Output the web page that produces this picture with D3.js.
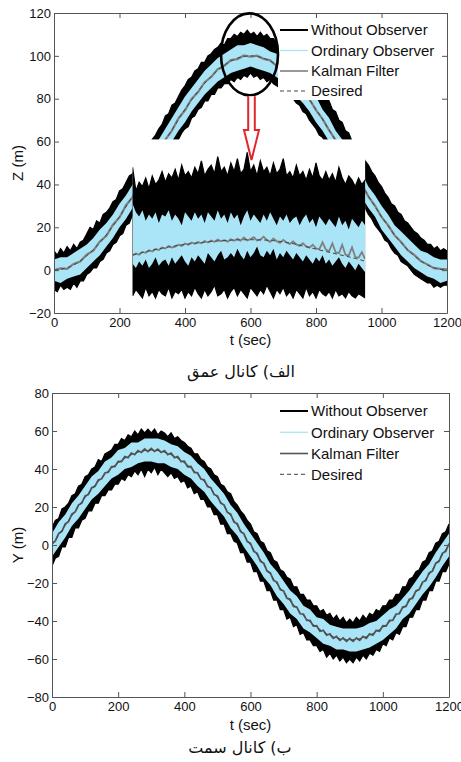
<!DOCTYPE html>
<html>
<head>
<meta charset="utf-8">
<script src="https://cdn.jsdelivr.net/npm/d3@7"></script>
<style>
body { margin: 0; background: #fff; }
svg text { font-family: "Liberation Sans", Arial, sans-serif; fill: #111; }
</style>
</head>
<body>
<script>
// Width and height
var w = 461;
var h = 762;

// Sample grids (seconds)
var t10 = d3.range(0, 1201, 10);
var t20 = d3.range(0, 1201, 20);
var t50 = d3.range(0, 1201, 50);
var tInset = d3.range(240, 951, 10);

var legendNames = ["Without Observer", "Ordinary Observer", "Kalman Filter", "Desired"];
var xTicks = [0, 200, 400, 600, 800, 1000, 1200];
var zTicks = [-20, 0, 20, 40, 60, 80, 100, 120];
var yTicks = [-80, -60, -40, -20, 0, 20, 40, 60, 80];

// ---- Depth channel (Z), full run ----
var zWithoutHi = [9, 7, 10, 8, 11, 9, 12, 10, 13, 14,
  17, 20, 19, 23, 22, 26, 27, 29, 32, 33,
  37, 38, 41, 44, 45, 48, 51, 52, 56, 58,
  61, 63, 66, 68, 72, 73, 77, 78, 81, 84,
  86, 89, 90, 93, 94, 97, 97, 100, 101, 103,
  104, 106, 105, 108, 108, 110, 109, 111, 110, 112,
  110, 111, 109, 111, 109, 110, 108, 108, 106, 106,
  105, 103, 103, 100, 100, 97, 96, 93, 92, 89,
  88, 85, 84, 80, 79, 75, 74, 70, 69, 65,
  64, 60, 59, 55, 54, 51, 49, 46, 44, 41,
  39, 36, 34, 31, 30, 27, 26, 23, 22, 20,
  18, 17, 15, 14, 12, 12, 10, 11, 9, 10,
  9];
var zWithoutLo = [-9, -10, -7, -9, -8, -9, -6, -8, -5, -5,
  -2, -1, 1, 1, 4, 5, 8, 9, 12, 13,
  16, 17, 21, 22, 26, 27, 30, 33, 35, 38,
  41, 43, 46, 48, 52, 53, 56, 59, 61, 64,
  66, 67, 71, 72, 75, 76, 79, 79, 82, 82,
  85, 85, 87, 87, 89, 88, 90, 89, 91, 90,
  92, 90, 91, 89, 90, 88, 89, 87, 86, 85,
  84, 83, 81, 80, 78, 77, 74, 73, 70, 68,
  66, 63, 62, 59, 57, 54, 52, 49, 47, 44,
  41, 39, 36, 34, 31, 29, 26, 24, 21, 19,
  17, 14, 13, 10, 8, 7, 4, 3, 2, 0,
  -2, -3, -4, -5, -6, -6, -8, -7, -8, -7,
  -7];
var zOrdinaryHi = [5, 6, 6, 8, 10, 12, 15, 19, 22, 26,
  31, 35, 40, 45, 51, 55, 61, 66, 71, 76,
  81, 85, 89, 93, 96, 99, 101, 103, 105, 105,
  106, 105, 104, 102, 101, 98, 96, 92, 89, 84,
  81, 75, 71, 65, 61, 55, 50, 45, 39, 35,
  30, 26, 21, 18, 15, 12, 9, 8, 6, 5,
  5];
var zOrdinaryLo = [-5, -6, -4, -3, -2, 1, 4, 7, 11, 15,
  20, 24, 29, 34, 39, 45, 49, 55, 60, 65,
  69, 74, 78, 82, 85, 88, 90, 92, 93, 94,
  95, 94, 93, 92, 90, 88, 85, 81, 78, 74,
  69, 65, 60, 54, 50, 44, 39, 34, 29, 25,
  19, 15, 11, 7, 4, 1, -1, -3, -4, -6,
  -5];
var zKalman = [0, 0.8, 0.6, 2.9, 4.0, 7.3, 9.1, 13.4, 16.0, 21.2,
  24.6, 30.3, 34.1, 40.2, 44.5, 50.6, 54.8, 60.9, 65.1, 70.8,
  74.6, 79.9, 83.1, 87.7, 90.1, 93.8, 95.3, 98.0, 98.5, 100.2,
  99.6, 100.1, 98.6, 97.9, 95.2, 93.9, 90.0, 87.6, 83.2, 79.8,
  74.7, 70.6, 65.3, 60.7, 55.0, 50.4, 44.6, 40.0, 34.3, 30.1,
  24.8, 21.0, 16.2, 13.1, 9.3, 7.1, 4.2, 2.7, 0.9, 0.6,
  0.4];
var zDesired = [0, 1.7, 6.7, 14.6, 25, 37.1, 50, 62.9, 75, 85.4, 93.3, 98.3, 100,
  98.3, 93.3, 85.4, 75, 62.9, 50, 37.1, 25, 14.6, 6.7, 1.7, 0];

// ---- Depth channel, magnified window drawn over t = 240..950 ----
var insetWithoutHi = [48, 37, 41, 39, 43, 38, 44, 40, 42, 46,
  41, 45, 43, 47, 42, 49, 44, 46, 43, 48,
  45, 51, 44, 47, 49, 45, 53, 46, 48, 44,
  50, 46, 52, 45, 47, 55, 46, 49, 44, 51,
  46, 48, 44, 50, 45, 47, 52, 44, 46, 43,
  49, 44, 46, 42, 47, 43, 50, 44, 42, 46,
  42, 45, 41, 48, 43, 40, 44, 42, 39, 43,
  40, 42];
var insetWithoutLo = [-12, -9, -11, -13, -8, -12, -10, -13, -9, -11,
  -12, -8, -13, -10, -11, -9, -13, -10, -12, -8,
  -11, -13, -9, -12, -10, -7, -12, -11, -9, -13,
  -10, -8, -12, -9, -11, -13, -8, -10, -12, -9,
  -11, -7, -10, -13, -9, -11, -8, -12, -10, -13,
  -9, -11, -13, -8, -12, -10, -13, -9, -11, -12,
  -10, -13, -9, -12, -11, -13, -10, -12, -13, -11,
  -12, -13];
var insetOrdinaryHi = [31, 27, 25, 28, 23, 26, 24, 27, 22, 26,
  25, 28, 23, 26, 24, 21, 27, 25, 23, 27,
  24, 26, 22, 27, 25, 23, 28, 24, 26, 22,
  27, 24, 26, 21, 25, 28, 23, 26, 24, 22,
  26, 23, 27, 24, 21, 25, 23, 26, 22, 24,
  25, 21, 24, 26, 22, 24, 20, 25, 23, 21,
  24, 22, 20, 25, 21, 23, 19, 24, 22, 20,
  23, 21];
var insetOrdinaryLo = [3, 1, 4, 2, 5, 1, 3, 6, 2, 4,
  5, 2, 6, 3, 5, 7, 4, 2, 6, 4,
  7, 5, 3, 8, 6, 4, 7, 9, 5, 6,
  8, 6, 10, 7, 5, 9, 6, 8, 11, 7,
  6, 9, 7, 10, 5, 8, 6, 9, 7, 5,
  8, 6, 4, 7, 5, 3, 6, 4, 7, 3,
  5, 2, 4, 6, 3, 1, 4, 2, 0, 3,
  1, -1];
var insetKalman = [7, 7.8, 7.2, 8.5, 8.1, 9.3, 8.7, 9.9, 9.4, 10.6,
  10.1, 11.2, 10.5, 11.0, 11.9, 11.3, 12.4, 11.8, 12.9, 12.3,
  13.1, 12.5, 13.6, 12.9, 13.8, 13.2, 14.3, 13.5, 14.0, 13.3,
  14.4, 13.7, 14.6, 13.8, 15.2, 13.9, 14.5, 15.4, 13.8, 14.2,
  15.6, 14.0, 13.2, 14.8, 13.5, 12.7, 14.1, 12.9, 12.2, 13.4,
  12.0, 11.3, 12.6, 11.1, 10.5, 11.8, 10.2, 9.8, 13.0, 9.6,
  8.9, 12.5, 8.3, 7.9, 11.8, 7.2, 6.8, 10.6, 6.1, 5.8,
  8.4, 5.2];
var insetDesiredT = [240, 300, 350, 400, 500, 600, 700, 800, 900, 950];
var insetDesired = [7, 9.3, 10.8, 12, 13.6, 14.2, 13.2, 9.8, 6.2, 4.2];

// ---- Heading channel (Y) ----
var yWithoutHi = [9, 13, 14, 19, 20, 22, 26, 27, 31, 32,
  36, 37, 40, 41, 45, 44, 48, 49, 50, 53,
  53, 56, 55, 58, 57, 60, 58, 61, 59, 61,
  59, 61, 58, 60, 59, 57, 59, 56, 57, 55,
  54, 52, 51, 48, 48, 45, 44, 41, 40, 37,
  36, 32, 31, 28, 27, 23, 21, 18, 16, 13,
  11, 7, 6, 2, 1, -3, -4, -8, -9, -13,
  -14, -17, -18, -22, -22, -26, -26, -29, -29, -32,
  -32, -35, -34, -37, -36, -39, -37, -40, -38, -41,
  -39, -41, -38, -40, -37, -39, -36, -37, -34, -35,
  -32, -32, -29, -29, -26, -26, -22, -22, -18, -17,
  -14, -13, -9, -8, -4, -3, 1, 2, 6, 7,
  11];
var yWithoutLo = [-11, -7, -6, -1, -1, 4, 4, 9, 9, 13,
  14, 18, 18, 22, 22, 26, 26, 29, 29, 32,
  32, 35, 34, 37, 36, 39, 37, 40, 36, 40,
  38, 41, 37, 40, 38, 36, 38, 35, 36, 33,
  34, 30, 31, 27, 28, 24, 24, 20, 20, 16,
  16, 11, 11, 6, 6, 2, 1, -4, -4, -9,
  -9, -14, -14, -19, -19, -24, -24, -29, -29, -34,
  -34, -39, -38, -43, -42, -47, -46, -50, -50, -53,
  -53, -56, -55, -59, -57, -60, -58, -61, -59, -62,
  -60, -62, -59, -61, -58, -60, -57, -58, -55, -56,
  -52, -53, -49, -50, -46, -47, -43, -43, -38, -38,
  -34, -34, -29, -29, -24, -24, -19, -19, -14, -14,
  -10];
var yOrdinaryHi = [6, 12, 16, 22, 26, 31, 36, 39, 44, 46,
  50, 51, 54, 54, 56, 56, 56, 55, 53, 52,
  49, 47, 43, 40, 35, 31, 27, 21, 17, 11,
  6, 1, -4, -10, -14, -19, -24, -27, -32, -34,
  -38, -39, -42, -43, -44, -44, -44, -43, -41, -40,
  -37, -34, -32, -28, -24, -19, -14, -10, -4, 1,
  6];
var yOrdinaryLo = [-6, -1, 4, 10, 14, 19, 24, 27, 31, 35,
  37, 40, 41, 43, 44, 44, 43, 43, 41, 40,
  37, 35, 31, 28, 23, 19, 15, 9, 5, -1,
  -6, -11, -17, -21, -27, -31, -36, -39, -44, -46,
  -49, -52, -53, -55, -55, -56, -56, -55, -54, -52,
  -50, -47, -44, -39, -36, -31, -26, -22, -17, -11,
  -6];
var yKalman = [0.8, 2.1, 6.0, 7.2, 11.1, 12.3, 16.2, 17.4, 21.0, 22.1,
  25.8, 26.6, 30.1, 30.9, 34.2, 34.8, 37.9, 38.3, 41.2, 41.3,
  44.0, 43.9, 46.5, 46.0, 48.4, 47.6, 49.7, 48.7, 50.5, 49.2,
  50.8, 49.3, 50.4, 48.7, 49.7, 47.6, 48.4, 46.0, 46.5, 43.9,
  44.1, 41.2, 41.3, 38.2, 38.0, 34.7, 34.3, 30.8, 30.2, 26.5,
  25.8, 22.0, 21.1, 17.2, 16.3, 12.1, 11.2, 7.0, 6.0, 1.9,
  0.8, -3.3, -4.4, -8.6, -9.6, -13.7, -14.7, -18.7, -19.5, -23.5,
  -24.2, -28.0, -28.6, -32.3, -32.7, -36.2, -36.4, -39.7, -39.7, -42.7,
  -42.5, -45.4, -44.9, -47.5, -46.8, -49.1, -48.1, -50.2, -48.9, -50.7,
  -49.2, -50.7, -48.9, -50.2, -48.1, -49.1, -46.8, -47.5, -44.9, -45.4,
  -42.5, -42.7, -39.7, -39.7, -36.4, -36.2, -32.7, -32.3, -28.6, -28.0,
  -24.2, -23.5, -19.5, -18.7, -14.7, -13.7, -9.6, -8.6, -4.4, -3.3,
  0.8];
var yDesired = [0, 12.9, 25, 35.4, 43.3, 48.3, 50, 48.3, 43.3, 35.4, 25, 12.9, 0,
  -12.9, -25, -35.4, -43.3, -48.3, -50, -48.3, -43.3, -35.4, -25, -12.9, 0];

// Colours
var cWithout = "#000";
var cOrdinary = "#a9e5f7";
var cDesired = "#444";
var red = "#e3262b";

function band(ts, lo, hi) {
  return ts.map(function(t, i) { return { t: t, lo: lo[i], hi: hi[i] }; });
}
function pts(ts, vs) {
  return ts.map(function(t, i) { return { t: t, v: vs[i] }; });
}

// Create SVG element
var svg = d3.select("body")
  .append("svg")
  .attr("width", w)
  .attr("height", h);

var defs = svg.append("defs");

// draws the four series of one channel
function drawSeries(g, x, y, s) {
  var area = d3.area()
    .x(function(d) { return x(d.t); })
    .y0(function(d) { return y(d.lo); })
    .y1(function(d) { return y(d.hi); });
  var line = d3.line()
    .x(function(d) { return x(d.t); })
    .y(function(d) { return y(d.v); });

  g.append("path")
    .attr("d", area(band(s.tW, s.wLo, s.wHi)))
    .attr("fill", cWithout)
    .attr("stroke", cWithout)
    .attr("stroke-width", 1.2);
  g.append("path")
    .attr("d", area(band(s.tO, s.oLo, s.oHi)))
    .attr("fill", cOrdinary);
  g.append("path")
    .attr("d", line(pts(s.tK, s.k)))
    .attr("fill", "none")
    .attr("stroke", s.kColor)
    .attr("stroke-width", s.kWidth);
  g.append("path")
    .attr("d", line.curve(d3.curveNatural)(pts(s.tD, s.d)))
    .attr("fill", "none")
    .attr("stroke", cDesired)
    .attr("stroke-width", 1)
    .attr("stroke-dasharray", "4,3");
}

function drawAxes(g, x, y, yt, padX, padY) {
  var axisColor = "#555";
  var gx = g.append("g")
    .attr("transform", "translate(0," + y.range()[0] + ")")
    .call(d3.axisBottom(x).tickValues(xTicks).tickFormat(d3.format("d"))
      .tickSizeInner(-5).tickSizeOuter(0).tickPadding(padX));
  var gxt = g.append("g")
    .attr("transform", "translate(0," + y.range()[1] + ")")
    .call(d3.axisTop(x).tickValues(xTicks).tickSizeInner(-5).tickSizeOuter(0).tickFormat(""));
  var gy = g.append("g")
    .attr("transform", "translate(" + x.range()[0] + ",0)")
    .call(d3.axisLeft(y).tickValues(yt).tickFormat(d3.format("d"))
      .tickSizeInner(-5).tickSizeOuter(0).tickPadding(padY));
  var gyr = g.append("g")
    .attr("transform", "translate(" + x.range()[1] + ",0)")
    .call(d3.axisRight(y).tickValues(yt).tickSizeInner(-5).tickSizeOuter(0).tickFormat(""));
  [gx, gxt, gy, gyr].forEach(function(a) {
    a.selectAll("path, line").attr("stroke", axisColor);
    a.selectAll("text").attr("font-size", "13px").attr("fill", "#111")
      .attr("font-family", "Liberation Sans, Arial, sans-serif");
  });
}

function drawLegend(g, x0, rows, kColor) {
  var styles = [
    { c: cWithout, wd: 2, dash: null },
    { c: cOrdinary, wd: 1.3, dash: null },
    { c: kColor, wd: 1.6, dash: null },
    { c: cDesired, wd: 1, dash: "4,3" }
  ];
  legendNames.forEach(function(n, i) {
    g.append("line")
      .attr("x1", x0).attr("x2", x0 + 28)
      .attr("y1", rows[i]).attr("y2", rows[i])
      .attr("stroke", styles[i].c)
      .attr("stroke-width", styles[i].wd)
      .attr("stroke-dasharray", styles[i].dash);
    g.append("text")
      .attr("x", x0 + 31)
      .attr("y", rows[i])
      .attr("dy", "0.36em")
      .attr("font-size", "15px")
      .text(n);
  });
}

// ================= Panel 1: depth =================
var xZ = d3.scaleLinear().domain([0, 1200]).range([54, 447]);
var yZ = d3.scaleLinear().domain([-20, 120]).range([313, 13]);

defs.append("clipPath").attr("id", "clipZ")
  .append("rect")
  .attr("x", xZ(0)).attr("y", yZ(120))
  .attr("width", xZ(1200) - xZ(0)).attr("height", yZ(-20) - yZ(120));

var gZ = svg.append("g").attr("clip-path", "url(#clipZ)");
drawSeries(gZ, xZ, yZ, {
  tW: t10, wHi: zWithoutHi, wLo: zWithoutLo,
  tO: t20, oHi: zOrdinaryHi, oLo: zOrdinaryLo,
  tK: t20, k: zKalman, kColor: "#808080", kWidth: 2.2,
  tD: t50, d: zDesired
});

// magnified window over the middle of the run
var insetTop = 61;
defs.append("clipPath").attr("id", "clipInset")
  .append("rect")
  .attr("x", xZ(240)).attr("y", yZ(insetTop))
  .attr("width", xZ(950) - xZ(240)).attr("height", yZ(-20) - yZ(insetTop));

svg.append("rect")
  .attr("x", xZ(240)).attr("y", yZ(insetTop))
  .attr("width", xZ(950) - xZ(240)).attr("height", yZ(-20) - yZ(insetTop))
  .attr("fill", "#fff");

var gIn = svg.append("g").attr("clip-path", "url(#clipInset)");
drawSeries(gIn, xZ, yZ, {
  tW: tInset, wHi: insetWithoutHi, wLo: insetWithoutLo,
  tO: tInset, oHi: insetOrdinaryHi, oLo: insetOrdinaryLo,
  tK: tInset, k: insetKalman, kColor: "#808080", kWidth: 1.8,
  tD: insetDesiredT, d: insetDesired
});

// legend (white box hides the curve behind it)
svg.append("rect")
  .attr("x", 278).attr("y", 16).attr("width", 166).attr("height", 84)
  .attr("fill", "#fff");
drawLegend(svg.append("g"), 280, [30, 50.5, 71, 91], "#808080");

drawAxes(svg.append("g"), xZ, yZ, zTicks, 5, 3);

// zoom marker: ellipse round the peak and arrow down to the window
var ecx = xZ(600) - 1, ecy = yZ(100) - 1.5, erx = 28.5, ery = 41;
svg.append("ellipse")
  .attr("cx", ecx).attr("cy", ecy)
  .attr("rx", erx).attr("ry", ery)
  .attr("fill", "none")
  .attr("stroke", "#000")
  .attr("stroke-width", 2.6);

var ax = ecx + 2, aTop = ecy + ery + 1, aNeck = 130, aTip = 160;
svg.append("path")
  .attr("d", "M" + (ax - 3.3) + "," + aTop + "L" + (ax - 3.3) + "," + aNeck +
    "L" + (ax - 7.5) + "," + aNeck + "L" + ax + "," + aTip +
    "L" + (ax + 7.5) + "," + aNeck + "L" + (ax + 3.3) + "," + aNeck +
    "L" + (ax + 3.3) + "," + aTop)
  .attr("fill", "#fff")
  .attr("stroke", red)
  .attr("stroke-width", 2);

// axis labels
svg.append("text")
  .attr("transform", "translate(22.5," + ((yZ(120) + yZ(-20)) / 2) + ") rotate(-90)")
  .attr("text-anchor", "middle")
  .attr("font-size", "15px")
  .text("Z (m)");
svg.append("text")
  .attr("x", (xZ(0) + xZ(1200)) / 2)
  .attr("y", 345)
  .attr("text-anchor", "middle")
  .attr("font-size", "15px")
  .text("t (sec)");
svg.append("text")
  .attr("x", 241)
  .attr("y", 377)
  .attr("text-anchor", "middle")
  .attr("direction", "rtl")
  .attr("font-size", "16px")
  .style("font-family", "'DejaVu Sans', sans-serif")
  .text("الف) کانال عمق");

// ================= Panel 2: heading =================
var xY = d3.scaleLinear().domain([0, 1200]).range([52, 449]);
var yY = d3.scaleLinear().domain([-80, 80]).range([697, 393]);

defs.append("clipPath").attr("id", "clipY")
  .append("rect")
  .attr("x", xY(0)).attr("y", yY(80))
  .attr("width", xY(1200) - xY(0)).attr("height", yY(-80) - yY(80));

var gY = svg.append("g").attr("clip-path", "url(#clipY)");
drawSeries(gY, xY, yY, {
  tW: t10, wHi: yWithoutHi, wLo: yWithoutLo,
  tO: t20, oHi: yOrdinaryHi, oLo: yOrdinaryLo,
  tK: t10, k: yKalman, kColor: "#555", kWidth: 1.8,
  tD: t50, d: yDesired
});

svg.append("rect")
  .attr("x", 278).attr("y", 398).attr("width", 166).attr("height", 86)
  .attr("fill", "#fff");
drawLegend(svg.append("g"), 280, [411, 432.3, 453.5, 474.3], "#555");

drawAxes(svg.append("g"), xY, yY, yTicks, 5, 3);

svg.append("text")
  .attr("transform", "translate(22.5," + ((yY(80) + yY(-80)) / 2) + ") rotate(-90)")
  .attr("text-anchor", "middle")
  .attr("font-size", "15px")
  .text("Y (m)");
svg.append("text")
  .attr("x", (xY(0) + xY(1200)) / 2)
  .attr("y", 730)
  .attr("text-anchor", "middle")
  .attr("font-size", "15px")
  .text("t (sec)");
svg.append("text")
  .attr("x", 240)
  .attr("y", 753)
  .attr("text-anchor", "middle")
  .attr("direction", "rtl")
  .attr("font-size", "16px")
  .style("font-family", "'DejaVu Sans', sans-serif")
  .text("ب) کانال سمت");
</script>
</body>
</html>
